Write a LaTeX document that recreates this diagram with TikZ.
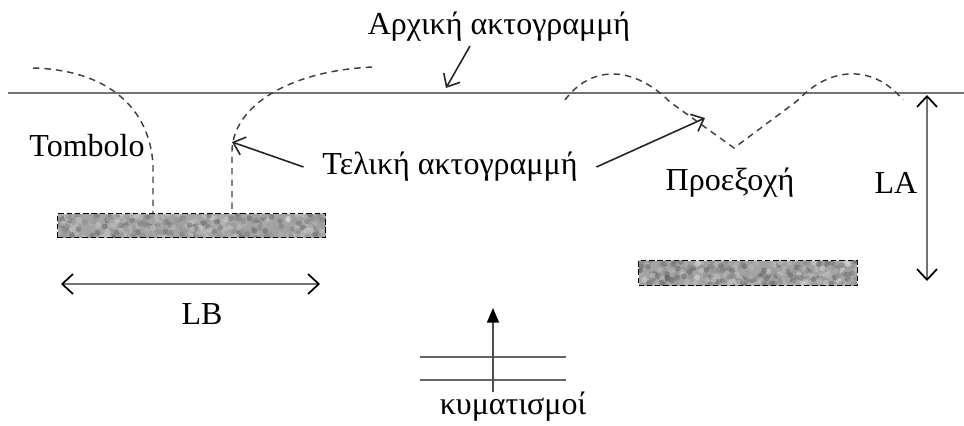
\documentclass[tikz,border=0pt]{standalone}
\usepackage{fontspec}
\setmainfont{Liberation Serif}
\usetikzlibrary{arrows.meta,calc}

\tikzset{
  lbl/.style={inner sep=0pt, font=\fontsize{24}{28}\selectfont},
  shore/.style={draw=black!55, line width=1.3pt},
  newshore/.style={draw=black!75, line width=1.1pt, dash pattern=on 4.8pt off 3.8pt},
  pointer/.style={draw=black!85, line width=1.2pt, -{Straight Barb[length=8pt,width=14pt,line width=1.2pt]}},
  dim/.style={draw=black!55, line width=1.3pt,
    {Straight Barb[length=8pt,width=15pt,line width=1.3pt,color=black]}-{Straight Barb[length=8pt,width=15pt,line width=1.3pt,color=black]}},
  breakwater/.style={draw=black, line width=0.9pt, dash pattern=on 4pt off 2.2pt,
    fill=black!36, inner sep=0pt,
    path picture={
      \coordinate (sw) at (path picture bounding box.south west);
      \coordinate (se) at (path picture bounding box.south east);
      \coordinate (nw) at (path picture bounding box.north west);
      \foreach \k in {1,...,360}{
        \pgfmathsetmacro\px{rnd}
        \pgfmathsetmacro\py{rnd}
        \pgfmathsetmacro\sh{12+55*rnd}
        \fill[black!\sh, opacity=0.45]
          ($(sw)!\px!(se) + \py*(nw) - \py*(sw)$) circle (2.2pt);
      }
    }},
  wave/.style={draw=black!60, line width=1.1pt},
}

\begin{document}
\begin{tikzpicture}[x=0.75pt, y=-0.75pt]
  \useasboundingbox (0,0) rectangle (964,425);
  \pgfmathsetseed{11}

  % original shoreline
  \coordinate (shoreW) at (8,93);
  \coordinate (shoreE) at (964,93);
  \draw[shore] (shoreW) -- (shoreE);

  % detached breakwaters
  \node[breakwater, minimum width=201pt, minimum height=18pt, anchor=north west] (breakL) at (57,213) {};
  \node[breakwater, minimum width=164pt, minimum height=18.75pt, anchor=north west] (breakR) at (638,260) {};

  % tombolo: the final shoreline reaches the left breakwater
  \coordinate (tombA) at (33,68);
  \coordinate (tombB) at (372,67);
  \draw[newshore] (tombA) .. controls (110,70) and (150,110) .. (153,165) -- (breakL.north west -| 153,0);
  \draw[newshore] (tombB) .. controls (290,71) and (234,105) .. (232,150) -- (breakL.north west -| 232,0);

  % salient behind the right breakwater
  \coordinate (salA) at (565,100);
  \coordinate (salTip) at (734,148);
  \coordinate (salB) at (903,100);
  \draw[newshore] (salA) .. controls (590,66) and (632,64) .. (670,102) -- (salTip)
        -- (797,101) .. controls (832,64) and (875,66) .. (salB);

  % labels
  \node[lbl] (orig) at (499,27) {Αρχική ακτογραμμή};
  \node[lbl, inner xsep=14pt] (final) at (450,167) {Τελική ακτογραμμή};
  \node[lbl] (tombolo) at (87,146) {Tombolo};
  \node[lbl] (salient) at (730,183) {Προεξοχή};
  \node[lbl] (la) at (896,183) {LA};
  \node[lbl] (lb) at (202,314) {LB};
  \node[lbl] (wavetxt) at (513,407) {κυματισμοί};

  % pointers
  \coordinate (origTip) at (446,88);
  \coordinate (finalTipL) at (232,142);
  \coordinate (finalTipR) at (705,118);
  \draw[pointer] ($(orig.south)+(-29,4)$) -- (origTip);
  \draw[pointer] (final.west) -- (finalTipL);
  \draw[pointer] (final.east) -- (finalTipR);

  % dimensions
  \coordinate (laTop) at (927,95);
  \coordinate (laBot) at (927,281);
  \draw[dim] (laTop) -- (laBot);
  \coordinate (lbL) at (61,284);
  \coordinate (lbR) at (320,284);
  \draw[dim] (lbL) -- (lbR);

  % incoming waves
  \coordinate (crest1W) at (420,357);
  \coordinate (crest1E) at (566,357);
  \coordinate (crest2W) at (420,380);
  \coordinate (crest2E) at (566,380);
  \draw[wave] (crest1W) -- (crest1E);
  \draw[wave] (crest2W) -- (crest2E);
  \coordinate (waveTip) at (493,308);
  \draw[draw=black!70, line width=1.2pt, -{Triangle[length=11pt,width=9pt,color=black]}]
    (wavetxt.north -| waveTip) -- (waveTip);
\end{tikzpicture}
\end{document}
